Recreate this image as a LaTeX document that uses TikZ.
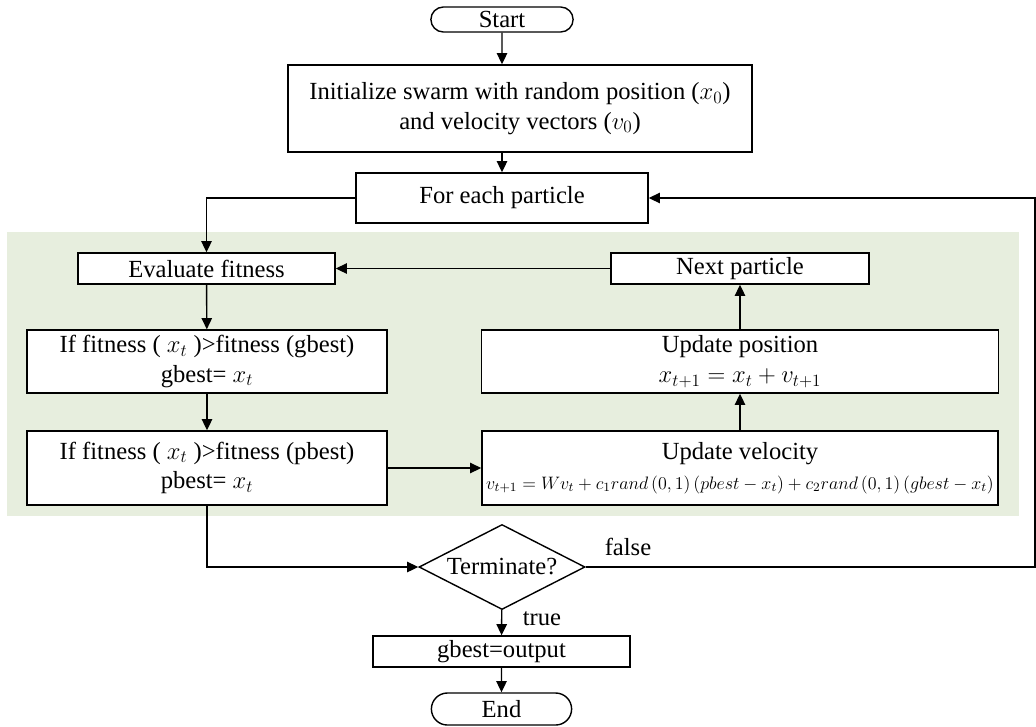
\documentclass[tikz,border=0pt]{standalone}
\usepackage{fix-cm}
\usepackage{fontspec}
\setmainfont{Liberation Serif}
\usepackage{tikz}
\usetikzlibrary{shapes.geometric}
\usetikzlibrary{shapes.misc}
\usetikzlibrary{arrows.meta}
\definecolor{loopgreen}{RGB}{231,238,222}

\begin{document}
\begin{tikzpicture}[x=0.025cm,y=-0.025cm,
        every node/.style={font=\fontsize{17.5}{21}\selectfont},
        process/.style={draw,fill=white,line width=1pt,align=center,inner sep=1pt},
        terminal/.style={draw,rounded rectangle,fill=white,line width=1pt,inner sep=1pt},
        decision/.style={draw,diamond,aspect=2,fill=white,line width=1pt,inner sep=0pt,minimum width=4.15cm,minimum height=2.125cm},
        line/.style={line width=1pt},
        arrow/.style={line,-{Triangle[length=2.8mm,width=2.6mm]}}]
            \useasboundingbox (0,0) rectangle (1036,726);
            \fill[loopgreen] (7,232) rectangle (1019,516);

            \node[terminal,minimum width=3.625cm,minimum height=0.625cm] (start) at (502,19.5) {Start};
            \node[process,minimum width=11.6cm,minimum height=2.175cm] (init) at (520,108.5)
                {Initialize swarm with random position ($x_0$)\\ and velocity vectors ($v_0$)};
            \node[process,minimum width=7.3cm,minimum height=1.25cm] (each) at (502,198) {For each particle};
            \node[process,minimum width=6.425cm,minimum height=0.775cm] (eval) at (206.5,268.5) {Evaluate fitness};
            \node[process,minimum width=9cm,minimum height=1.575cm] (gbest) at (207,361.5)
                {If fitness ( $x_t$ )>fitness (gbest)\\ gbest= $x_t$};
            \node[process,minimum width=9cm,minimum height=1.85cm] (pbest) at (207,468)
                {If fitness ( $x_t$ )>fitness (pbest)\\ pbest= $x_t$};
            \node[process,minimum width=6.45cm,minimum height=0.775cm] (next) at (740,268.5) {Next particle};
            \node[process,minimum width=12.925cm,minimum height=1.575cm] (pos) at (740,361.5)
                {Update position\\ $x_{t+1} = x_t + v_{t+1}$};
            \node[process,minimum width=12.9cm,minimum height=1.85cm] (vel) at (740,468)
                {Update velocity\\ {\fontsize{12.8}{16}\selectfont $v_{t+1} = Wv_t + c_1 rand\left(0,1\right)\left(pbest - x_t\right) + c_2 rand\left(0,1\right)\left(gbest - x_t\right)$}};
            \node[decision] (check) at (502,567) {Terminate?};
            \node[process,minimum width=6.425cm,minimum height=0.775cm] (output) at (501.5,651.5) {gbest=output};
            \node[terminal,minimum width=3.575cm,minimum height=0.8cm] (finish) at (501.5,709) {End};
            \node (false) at (628,547) {false};
            \node (true) at (542,619) {true};
            \coordinate (loop) at (1035,567);

            \draw[arrow] (start) -- (start |- init.north);
            \draw[arrow] (each |- init.south) -- (each);
            \draw[arrow] (each.west) -| (eval.north);
            \foreach \a/\b in {eval/gbest, gbest/pbest, check/output, output/finish}{
                    \draw[arrow] (\a) -- (\b);
                }
            \draw[arrow] (pbest.east) -- (vel.west);
            \draw[arrow] (vel) -- (pos);
            \draw[arrow] (pos) -- (next);
            \draw[arrow] (next) -- (eval);
            \draw[arrow] (pbest.south) |- (check.west);
            \draw[arrow] (check.east) -- (loop) |- (each.east);
        \end{tikzpicture}
\end{document}
